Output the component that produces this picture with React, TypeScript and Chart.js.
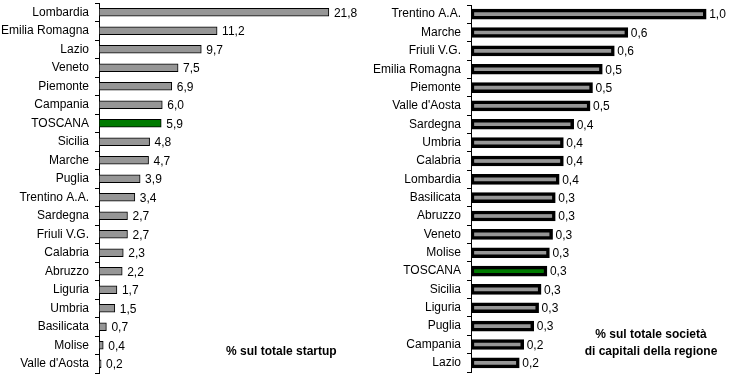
import React, { useEffect, useRef } from "react";
import { Chart, registerables } from "chart.js";

Chart.register(...registerables);

// ---- Data ----
const leftCategories = [
  "Lombardia", "Emilia Romagna", "Lazio", "Veneto", "Piemonte", "Campania", "TOSCANA",
  "Sicilia", "Marche", "Puglia", "Trentino A.A.", "Sardegna", "Friuli V.G.", "Calabria",
  "Abruzzo", "Liguria", "Umbria", "Basilicata", "Molise", "Valle d'Aosta",
];
const leftValues = [21.8, 11.2, 9.7, 7.5, 6.9, 6.0, 5.9, 4.8, 4.7, 3.9, 3.4, 2.7, 2.7, 2.3, 2.2, 1.7, 1.5, 0.7, 0.4, 0.2];
const leftLabels = ["21,8", "11,2", "9,7", "7,5", "6,9", "6,0", "5,9", "4,8", "4,7", "3,9", "3,4", "2,7", "2,7", "2,3", "2,2", "1,7", "1,5", "0,7", "0,4", "0,2"];

const rightCategories = [
  "Trentino A.A.", "Marche", "Friuli V.G.", "Emilia Romagna", "Piemonte", "Valle d'Aosta",
  "Sardegna", "Umbria", "Calabria", "Lombardia", "Basilicata", "Abruzzo", "Veneto", "Molise",
  "TOSCANA", "Sicilia", "Liguria", "Puglia", "Campania", "Lazio",
];
const rightValues = [0.96, 0.64, 0.585, 0.536, 0.496, 0.486, 0.419, 0.377, 0.377, 0.36, 0.344, 0.344, 0.333, 0.32, 0.31, 0.286, 0.276, 0.256, 0.215, 0.197];
const rightLabels = ["1,0", "0,6", "0,6", "0,5", "0,5", "0,5", "0,4", "0,4", "0,4", "0,4", "0,3", "0,3", "0,3", "0,3", "0,3", "0,3", "0,3", "0,3", "0,2", "0,2"];

const highlight = "TOSCANA";
const leftNote = "% sul totale startup";
const rightNote = ["% sul totale società", "di capitali della regione"];

const FONT = '"Liberation Sans", Arial, sans-serif';

const valueLabelPlugin = {
  id: "valueLabels",
  afterDatasetsDraw(chart: any, _args: any, opts: any) {
    const ctx = chart.ctx;
    const meta = chart.getDatasetMeta(0);
    ctx.save();
    ctx.font = `12px ${FONT}`;
    ctx.fillStyle = "#000";
    ctx.textBaseline = "middle";
    ctx.textAlign = "left";
    meta.data.forEach((el: any, i: number) => {
      ctx.fillText(opts.labels[i], el.x + opts.gap, el.y + 1);
    });
    ctx.restore();
  },
};

function makeConfig(p: {
  cats: string[];
  vals: number[];
  labels: string[];
  fill: string;
  green: string;
  borderWidth: number;
  thickness: number;
  axisX: number;
  max: number;
  top: number;
  bottom: number;
  gap: number;
  labelPad: number;
}): any {
  return {
    type: "bar",
    data: {
      labels: p.cats,
      datasets: [
        {
          data: p.vals,
          backgroundColor: p.cats.map((c) => (c === highlight ? p.green : p.fill)),
          borderColor: "#000",
          borderWidth: p.borderWidth,
          borderSkipped: false,
          barThickness: p.thickness,
        },
      ],
    },
    options: {
      indexAxis: "y",
      responsive: false,
      animation: false,
      layout: { padding: { top: p.top, bottom: p.bottom, left: 0, right: 0 } },
      plugins: {
        legend: { display: false },
        tooltip: { enabled: false },
        valueLabels: { labels: p.labels, gap: p.gap },
      },
      scales: {
        x: { display: false, min: 0, max: p.max },
        y: {
          afterFit: (s: any) => {
            s.width = p.axisX;
            s.paddingTop = 0;
            s.paddingBottom = 0;
          },
          grid: {
            display: true,
            drawOnChartArea: false,
            drawTicks: true,
            tickLength: 4,
            offset: true,
            color: "#000",
            lineWidth: 1,
          },
          border: { display: true, color: "#000", width: 1 },
          ticks: {
            color: "#000",
            font: { family: FONT, size: 12 },
            padding: p.labelPad,
            autoSkip: false,
          },
        },
      },
    },
    plugins: [valueLabelPlugin],
  };
}

function BarCanvas({ config, left, width }: { config: any; left: number; width: number }) {
  const ref = useRef<HTMLCanvasElement>(null);
  useEffect(() => {
    if (!ref.current) return;
    const chart = new Chart(ref.current, config);
    return () => chart.destroy();
  }, [config]);
  return (
    <canvas
      ref={ref}
      width={width}
      height={377}
      style={{ position: "absolute", left, top: 0, width, height: 377 }}
    />
  );
}

const leftConfig = makeConfig({
  cats: leftCategories,
  vals: leftValues,
  labels: leftLabels,
  fill: "#969696",
  green: "#007a00",
  borderWidth: 1,
  thickness: 8,
  axisX: 99,
  max: 25.7,
  top: 3,
  bottom: 4,
  gap: 5,
  labelPad: 6,
});

const rightConfig = makeConfig({
  cats: rightCategories,
  vals: rightValues,
  labels: rightLabels,
  fill: "#969696",
  green: "#007a00",
  borderWidth: 3.5,
  thickness: 10,
  axisX: 101,
  max: 1.098,
  top: 5,
  bottom: 5,
  gap: 3,
  labelPad: 6,
});

export default function App() {
  const noteStyle: React.CSSProperties = {
    position: "absolute",
    fontFamily: FONT,
    fontWeight: "bold",
    fontSize: 12,
    color: "#000",
    whiteSpace: "nowrap",
    lineHeight: "17px",
  };
  return (
    <div
      style={{
        position: "fixed",
        left: 0,
        top: 0,
        width: 740,
        height: 377,
        background: "#fff",
        overflow: "hidden",
      }}
    >
      <BarCanvas config={leftConfig} left={0} width={370} />
      <BarCanvas config={rightConfig} left={370} width={370} />
      <div style={{ ...noteStyle, left: 226, top: 343 }}>{leftNote}</div>
      <div style={{ ...noteStyle, left: 560, width: 182, top: 326, textAlign: "center" }}>
        {rightNote[0]}
        <br />
        {rightNote[1]}
      </div>
    </div>
  );
}
